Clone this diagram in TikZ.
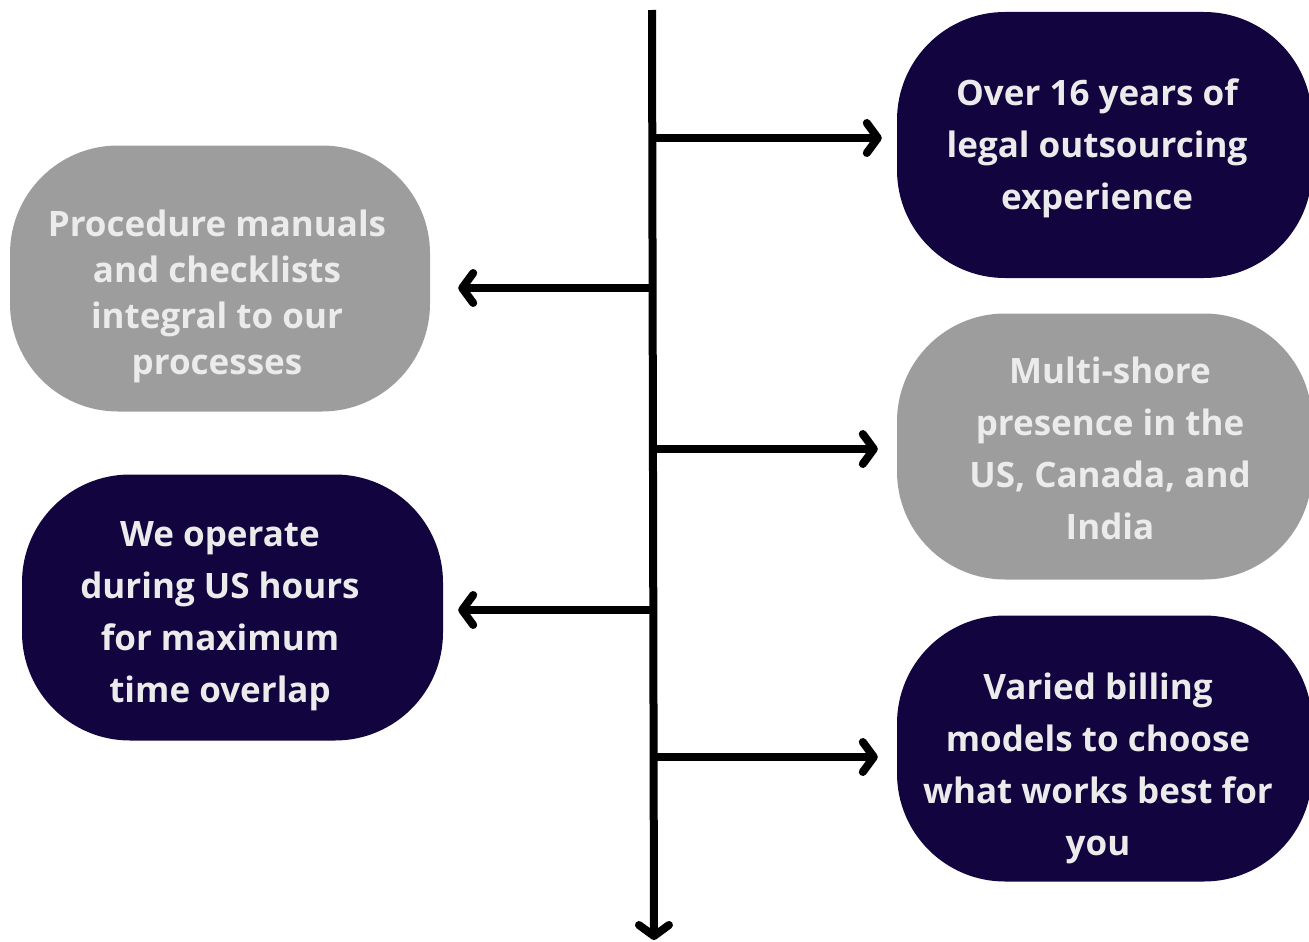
\documentclass[tikz,border=0pt]{standalone}
\usepackage{fontspec}
\setmainfont{Open Sans}
\usetikzlibrary{arrows.meta,calc}
\definecolor{navy}{HTML}{12053F}
\definecolor{greybox}{HTML}{9D9D9E}
\definecolor{txt}{HTML}{EBEBEB}
\tikzset{
  box/.style={rounded corners=108pt, inner sep=0pt, minimum height=266pt},
  darkbox/.style={box, fill=navy},
  greyfill/.style={box, fill=greybox},
  label text/.style={text=txt, align=center, font=\bfseries\fontsize{35}{52}\selectfont},
  label text tight/.style={label text, font=\bfseries\fontsize{35}{46}\selectfont},
  spine/.style={line width=8pt, -{Straight Barb[length=11pt,width=30pt,round]}},
  arr/.style={line width=8pt, -{Straight Barb[length=11pt,width=30pt,round]}},
}
\begin{document}
\begin{tikzpicture}[x=1pt,y=-1pt]
\useasboundingbox (0,0) rectangle (1309,942);
\clip (0,0) rectangle (1309,942);
\fill[white] (0,0) rectangle (1309,942);

% boxes
\node[darkbox,  minimum width=415pt] (r1) at (1104.5,145) {};
\node[greyfill, minimum width=420pt] (l1) at (220,278.5) {};
\node[greyfill, minimum width=415pt] (r2) at (1104.5,446.5) {};
\node[darkbox,  minimum width=421pt] (l2) at (232.5,607.5) {};
\node[darkbox,  minimum width=415pt] (r3) at (1104.5,748.5) {};

% texts
\node[label text] (t1) at (1097,148) {Over 16 years of\\legal outsourcing\\experience};
\node[label text tight] (t2) at (217,296) {Procedure manuals\\and checklists\\integral to our\\processes};
\node[label text] (t3) at (1110,448) {Multi-shore\\presence in the\\US, Canada, and\\India};
\node[label text] (t4) at (220,616) {We operate\\during US hours\\for maximum\\time overlap};
\node[label text] (t5) at (1098,768) {Varied billing\\models to choose\\what works best for\\you};

% spine
\coordinate (top) at (652,10);
\coordinate (bot) at (654,940);
\draw[spine] (top) -- (bot);

\coordinate (s1) at (653,138);
\coordinate (s2) at (653,288);
\coordinate (s3) at (653,449);
\coordinate (s4) at (653,610);
\coordinate (s5) at (653,757);

\draw[arr, shorten >=15pt] (s1) -- (s1 -| r1.west);
\draw[arr, shorten >=28pt] (s2) -- (s2 -| l1.east);
\draw[arr, shorten >=19pt] (s3) -- (s3 -| r2.west);
\draw[arr, shorten >=15pt] (s4) -- (s4 -| l2.east);
\draw[arr, shorten >=19pt] (s5) -- (s5 -| r3.west);
\end{tikzpicture}
\end{document}
